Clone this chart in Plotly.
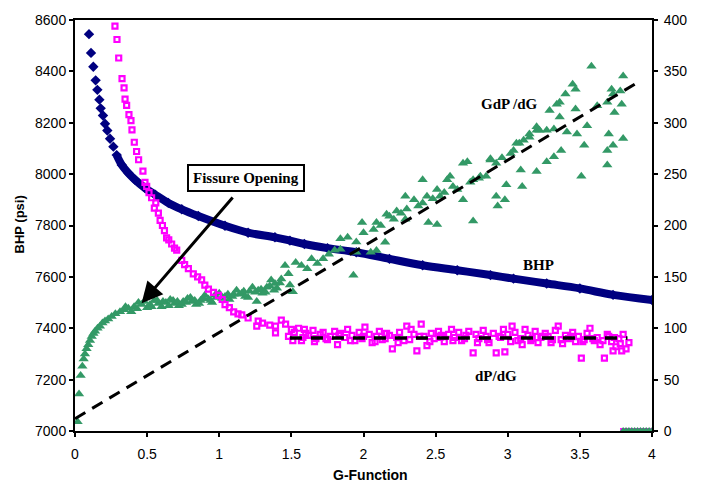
import plotly.graph_objects as go

# ---------------- data ----------------
bhp_g = [0.097, 0.111, 0.127, 0.143, 0.155, 0.169, 0.178, 0.194, 0.208, 0.224,
         0.243, 0.266, 0.289, 0.324, 0.37, 0.416, 0.485, 0.555, 0.647, 0.74,
         0.855, 1.04, 1.2, 1.386, 1.49, 1.59, 1.75, 1.95, 2.18, 2.41,
         2.65, 2.88, 3.04, 3.27, 3.50, 3.73, 4.0]
bhp_psi = [8545, 8472, 8418, 8365, 8328, 8290, 8256, 8228, 8196, 8170,
           8138, 8107, 8074, 8036, 8004, 7978, 7946, 7920, 7888, 7863,
           7837, 7799, 7772, 7754, 7741, 7728, 7712, 7696, 7670, 7645,
           7626, 7607, 7593, 7574, 7555, 7530, 7510]

dpdg_g = [0.277, 0.291, 0.303, 0.326, 0.340, 0.347, 0.358, 0.374, 0.388, 0.395,
          0.411, 0.427, 0.441, 0.471, 0.485, 0.497, 0.513, 0.531, 0.550, 0.56,
          0.578, 0.59, 0.606, 0.62, 0.635, 0.65, 0.670, 0.69, 0.705, 0.740,
          0.76, 0.786, 0.82, 0.85, 0.878, 0.9, 0.925, 0.96, 0.994, 1.02,
          1.04, 1.07, 1.10, 1.13, 1.156, 1.2, 1.26, 1.27, 1.3, 1.35,
          1.39, 1.39, 1.43, 1.46, 1.48, 1.50, 1.52, 1.55, 1.57, 1.59,
          1.60, 1.62, 1.65, 1.67, 1.70, 1.72, 1.75, 1.77, 1.80, 1.82,
          1.84, 1.87, 1.89, 1.92, 1.94, 1.97, 1.99, 2.01, 2.04, 2.06,
          2.09, 2.11, 2.13, 2.16, 2.18, 2.20, 2.23, 2.25, 2.28, 2.30,
          2.33, 2.35, 2.37, 2.40, 2.42, 2.44, 2.47, 2.49, 2.52, 2.54,
          2.56, 2.59, 2.61, 2.63, 2.66, 2.68, 2.71, 2.73, 2.76, 2.78,
          2.80, 2.83, 2.85, 2.87, 2.90, 2.92, 2.95, 2.97, 2.98, 3.00,
          3.03, 3.05, 3.07, 3.10, 3.12, 3.14, 3.17, 3.19, 3.21, 3.24,
          3.26, 3.28, 3.31, 3.33, 3.35, 3.38, 3.40, 3.42, 3.45, 3.47,
          3.49, 3.51, 3.53, 3.55, 3.57, 3.60, 3.62, 3.64, 3.67, 3.69,
          3.70, 3.72, 3.73, 3.75, 3.77, 3.78, 3.79, 3.80, 3.82, 3.84,
          1.51, 1.58, 1.66, 1.74, 1.83, 1.91, 2.00, 2.08, 2.15, 2.24,
          2.32, 2.39, 2.46, 2.53, 2.62, 2.70, 2.79, 2.86, 2.94, 3.02,
          3.09, 3.16, 3.23, 3.30, 3.37, 3.44, 3.52, 3.59, 3.66, 3.74]
dpdg_val = [394, 381, 363, 343, 334, 323, 317, 308, 302, 293,
            281, 272, 264, 253, 242, 238, 232, 227, 217, 222,
            212, 205, 200, 195, 188, 186, 182, 178, 176, 166,
            162, 158, 153, 150, 147, 142, 138, 135, 132, 128,
            123, 120, 116, 114, 113, 110, 102, 107, 105, 103,
            102, 95.5, 108, 104, 92, 99, 96, 100, 88, 99,
            95, 93, 98, 90, 94, 96, 89, 92, 97, 84,
            95, 91, 99, 93, 88, 96, 90, 101, 94, 86,
            92, 97, 89, 95, 93, 80, 91, 96, 88, 102,
            99, 94, 78, 104, 92, 83, 95, 90, 97, 93,
            87, 94, 99, 91, 96, 88, 93, 97, 76, 94,
            90, 98, 92, 86, 95, 76, 91, 99, 77, 94,
            102, 96, 88, 84, 99, 93, 90, 97, 86, 92,
            95, 92, 89, 98, 102, 85, 93, 90, 96, 87,
            92, 71, 89, 95, 100, 88, 91, 84, 71, 94,
            92, 87, 78, 82, 90, 85, 78, 94, 80, 86,
            88, 91, 87, 90, 93, 88, 92, 87, 90, 86,
            89, 92, 87, 91, 88, 90, 86, 89, 92, 87,
            90, 88, 91, 86, 89, 92, 87, 90, 88, 91]

gdpdg_g = [0.018, 0.028, 0.039, 0.051, 0.060, 0.069, 0.080, 0.092, 0.104, 0.116,
           0.128, 0.139, 0.156, 0.173, 0.19, 0.208, 0.23, 0.254, 0.28, 0.312,
           0.34, 0.37, 0.41, 0.44, 0.462, 0.5, 0.52, 0.55, 0.578, 0.6,
           0.63, 0.66, 0.69, 0.72, 0.75, 0.78, 0.81, 0.84, 0.87, 0.9,
           0.925, 0.95, 0.98, 1.0, 1.04, 1.07, 1.10, 1.12, 1.156, 1.18,
           1.21, 1.23, 1.26, 1.27, 1.3, 1.33, 1.36, 1.386, 1.4, 1.43,
           1.456, 1.48, 1.49, 1.51, 1.53, 1.57, 1.61, 1.64, 1.68, 1.72,
           1.76, 1.80, 1.84, 1.84, 1.89, 1.93, 1.95, 1.95, 1.99, 2.00,
           2.05, 2.07, 2.09, 2.09, 2.12, 2.15, 2.16, 2.18, 2.21, 2.23,
           2.26, 2.29, 2.29, 2.30, 2.35, 2.38, 2.41, 2.41, 2.44, 2.45,
           2.48, 2.51, 2.51, 2.53, 2.56, 2.58, 2.60, 2.62, 2.65, 2.69,
           2.69, 2.72, 2.74, 2.76, 2.76, 2.80, 2.81, 2.85, 2.88, 2.88,
           2.92, 2.92, 2.93, 2.96, 2.98, 2.99, 3.02, 3.04, 3.06, 3.08,
           3.09, 3.10, 3.11, 3.15, 3.15, 3.20, 3.20, 3.20, 3.22, 3.27,
           3.27, 3.29, 3.32, 3.32, 3.34, 3.36, 3.36, 3.37, 3.40, 3.41,
           3.45, 3.47, 3.47, 3.48, 3.51, 3.53, 3.55, 3.58, 3.62, 3.69,
           3.69, 3.69, 3.70, 3.72, 3.73, 3.73, 3.74, 3.78, 3.79, 3.80,
           3.80,
           0.35, 0.39, 0.43, 0.48, 0.53, 0.57, 0.61, 0.65, 0.68, 0.71,
           0.74, 0.77, 0.80, 0.83, 0.86, 0.89, 0.94, 0.97, 1.02, 1.06,
           1.09, 1.14, 1.17, 1.20, 1.25, 1.29, 1.32, 1.35, 1.38, 1.42]
gdpdg_val = [9, 36, 54, 63, 70, 75, 80, 84, 88, 92,
             95, 97, 100, 102, 105, 107, 109, 111.5, 114, 116,
             118, 119.5, 121, 125, 123, 120, 123, 127, 124, 121,
             125, 128, 124, 122, 126, 129, 126, 123, 127, 132,
             128.5, 125, 130, 134, 131, 128, 133, 137, 134, 131,
             136, 140, 126, 137, 134, 140, 147, 143.6, 139, 148,
             161, 153, 142, 135.6, 164, 161, 158, 167.6, 163, 167.6,
             172, 176, 177, 187, 188.5, 151.6, 184, 174, 203, 193,
             174, 196, 203, 175.6, 200, 183.6, 211, 209, 206, 214,
             212, 228.5, 206, 216, 225, 219, 222, 244.5, 228.5, 203,
             226, 235, 201, 228.5, 232, 244.5, 248, 238, 235, 260.6,
             225, 262, 242, 244.5, 204.5, 246, 248, 248, 263.8, 265,
             260.6, 228.5, 219, 266, 225, 239.7, 270, 273, 280, 280,
             254, 238, 283, 286, 289, 292.6, 252.6, 296, 292.6, 292.6,
             262, 312, 294, 267, 318, 305.5, 320, 273, 328, 291,
             337.5, 313.5, 332.7, 289, 248, 278, 297, 355, 316.6, 320,
             273, 259, 289, 332.7, 328, 278, 310, 331, 318, 284.6,
             345.5,
             121, 116, 119, 126, 121, 127, 126, 122, 127, 126,
             123, 125, 130, 127, 124, 129, 127, 132, 129, 133,
             131, 133, 136, 130, 135, 138, 135, 141, 137, 144]

# points sitting on zero at the far right of the record
zero_g = [3.80, 3.82, 3.84, 3.86, 3.88, 3.90, 3.92, 3.94, 3.96, 3.98, 4.0]
zero_val = [0] * len(zero_g)

# straight-line fits (dashed)
trend_gdp_g = [0.0, 3.88]
trend_gdp_val = [12, 337.5]
trend_dp_g = [1.49, 3.83]
trend_dp_val = [90.5, 90.5]

x_ticks = [0, 0.5, 1, 1.5, 2, 2.5, 3, 3.5, 4]

NAVY = "#000080"
MAGENTA = "#FF00FF"
GREEN = "#339966"

fig = go.Figure()

# BHP: continuous band + diamonds
fig.add_trace(go.Scatter(x=bhp_g[12:], y=bhp_psi[12:], mode="lines",
                         line=dict(color=NAVY, width=8, shape="spline"),
                         yaxis="y", showlegend=False, hoverinfo="skip"))
fig.add_trace(go.Scatter(x=bhp_g, y=bhp_psi, mode="markers",
                         marker=dict(symbol="diamond", size=8, color=NAVY),
                         yaxis="y", name="BHP", showlegend=False))

# zero points
fig.add_trace(go.Scatter(x=zero_g, y=zero_val, mode="markers",
                         marker=dict(symbol="square", size=6, color=MAGENTA),
                         yaxis="y2", showlegend=False))
fig.add_trace(go.Scatter(x=zero_g, y=zero_val, mode="markers",
                         marker=dict(symbol="triangle-up", size=8, color=GREEN),
                         yaxis="y2", showlegend=False))

# GdP/dG
fig.add_trace(go.Scatter(x=gdpdg_g, y=gdpdg_val, mode="markers",
                         marker=dict(symbol="triangle-up", size=9, color=GREEN),
                         yaxis="y2", name="GdP/dG", showlegend=False))
# dP/dG
fig.add_trace(go.Scatter(x=dpdg_g, y=dpdg_val, mode="markers",
                         marker=dict(symbol="square-open", size=5, color=MAGENTA,
                                     line=dict(width=2.2, color=MAGENTA)),
                         yaxis="y2", name="dP/dG", showlegend=False))

# trend lines
fig.add_trace(go.Scatter(x=trend_gdp_g, y=trend_gdp_val, mode="lines",
                         line=dict(color="black", width=3, dash="12px,8px"),
                         yaxis="y2", showlegend=False))
fig.add_trace(go.Scatter(x=trend_dp_g, y=trend_dp_val, mode="lines",
                         line=dict(color="black", width=3.5, dash="12px,9px"),
                         yaxis="y2", showlegend=False))

tickfont = dict(family="Liberation Sans, Arial", size=14, color="black")
serif = dict(family="Liberation Serif, Times New Roman", size=15, color="black")

fig.update_layout(
    width=710, height=485,
    margin=dict(l=75, r=58, t=15, b=54, pad=0),
    paper_bgcolor="white", plot_bgcolor="white",
    xaxis=dict(range=[0, 4], tickvals=x_ticks, ticks="outside", ticklen=4,
               tickwidth=1.5, tickcolor="black", showline=True, linecolor="black",
               linewidth=2, mirror=True, showgrid=False, zeroline=False,
               tickfont=tickfont, ticklabelstandoff=5),
    yaxis=dict(range=[7000, 8600], dtick=200, ticks="outside", ticklen=4,
               tickwidth=1.5, tickcolor="black", showline=True, linecolor="black",
               linewidth=2, showgrid=False, zeroline=False, tickfont=tickfont),
    yaxis2=dict(range=[0, 400], dtick=50, ticks="outside", ticklen=4,
                tickwidth=1.5, tickcolor="black", showline=True, linecolor="black",
                linewidth=2, showgrid=False, zeroline=False, tickfont=tickfont,
                overlaying="y", side="right", ticklabelstandoff=3),
    annotations=[
        dict(text="<b>BHP (psi)</b>", xref="paper", yref="paper",
             x=(20 - 75) / 577, y=(431 - 222) / 416, textangle=-90,
             xanchor="center", yanchor="middle",
             showarrow=False, font=dict(family="Liberation Sans, Arial", size=13, color="black")),
        dict(text="<b>G-Function</b>", xref="paper", yref="paper",
             x=(370 - 75) / 577, y=(431 - 476) / 416,
             xanchor="center", yanchor="middle",
             showarrow=False, font=dict(family="Liberation Sans, Arial", size=14, color="black")),
        dict(text="<b>GdP /dG</b>", xref="x", yref="y2", x=3.009, y=318,
             xanchor="center", yanchor="middle", showarrow=False, font=serif),
        dict(text="<b>BHP</b>", xref="x", yref="y2", x=3.21, y=161.5,
             xanchor="center", yanchor="middle", showarrow=False, font=serif),
        dict(text="<b>dP/dG</b>", xref="x", yref="y2", x=2.92, y=53.8,
             xanchor="center", yanchor="middle", showarrow=False, font=serif),
        dict(text="", xref="x", yref="y2", x=0.462, y=124.3,
             axref="x", ayref="y2", ax=1.102, ay=228.8,
             showarrow=True, arrowhead=2, arrowsize=1.4, arrowwidth=3,
             arrowcolor="black"),
        dict(text="<b>Fissure Opening</b>", xref="x", yref="y2", x=1.182, y=246,
             xanchor="center", yanchor="middle",
             showarrow=False, font=serif, bgcolor="white",
             bordercolor="black", borderwidth=2, borderpad=4),
    ],
)

fig.write_html("out.html")
